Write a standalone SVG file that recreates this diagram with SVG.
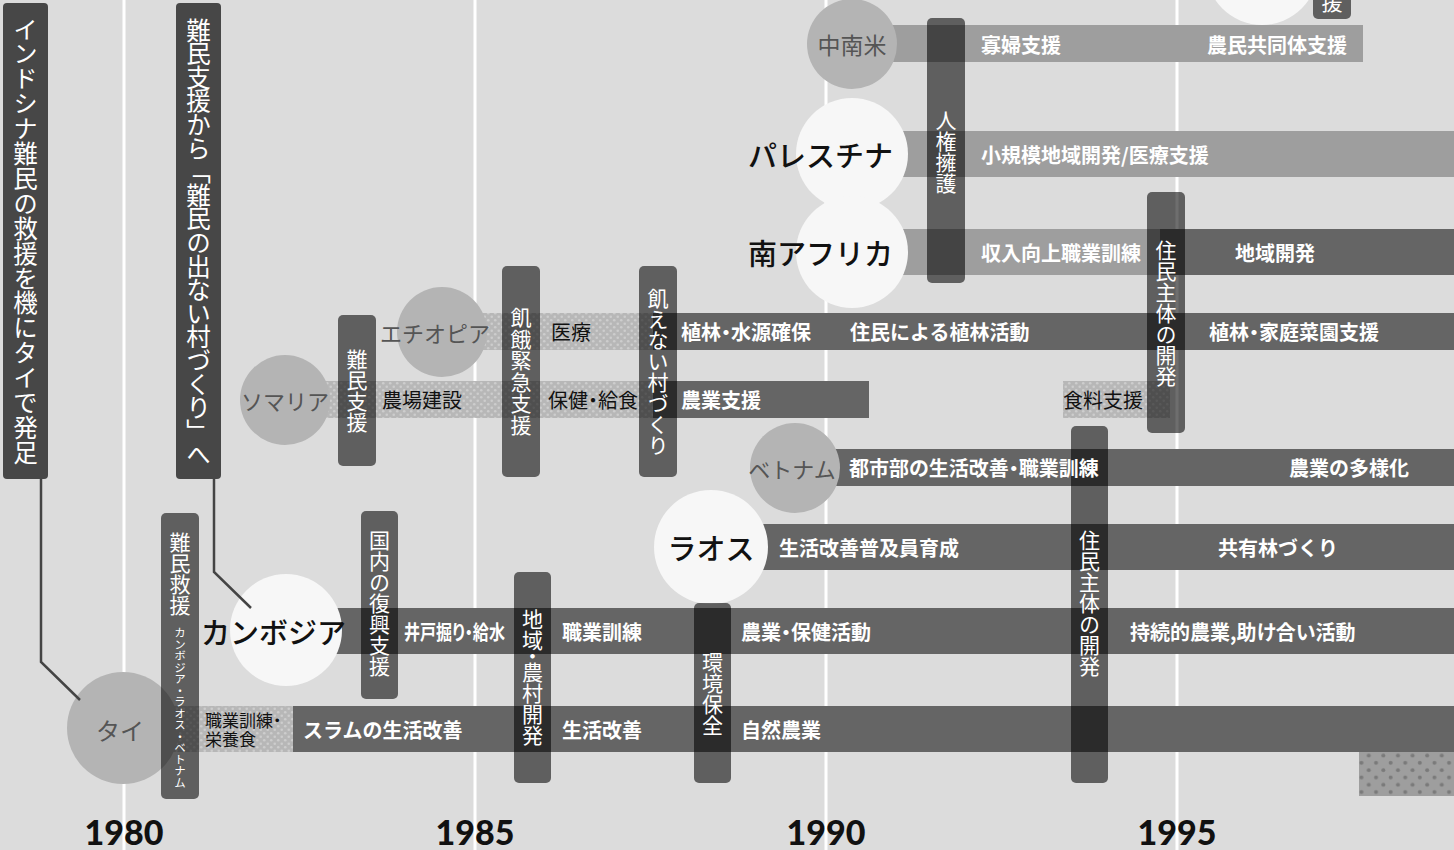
<svg xmlns="http://www.w3.org/2000/svg" width="1454" height="850" viewBox="0 0 1454 850">
<style>
.bl{font-family:"Noto Sans CJK JP",sans-serif;font-size:20px;font-weight:700;fill:#fff;dominant-baseline:central}
.bk{font-family:"Noto Sans CJK JP",sans-serif;font-size:20px;fill:#111;dominant-baseline:central}
.pa{font-feature-settings:"palt"}
.vp{font-feature-settings:"vpal"}
.cg{font-family:"Noto Sans CJK JP",sans-serif;font-size:22px;fill:#555;dominant-baseline:central;text-anchor:middle}
.cw{font-family:"Noto Sans CJK JP",sans-serif;font-size:29px;font-weight:500;fill:#111;dominant-baseline:central}
.vt{font-family:"Noto Sans CJK JP",sans-serif;font-size:21px;fill:#fff;writing-mode:vertical-rl}
.vb{fill:#000;fill-opacity:0.57}
.dk{fill:#656565}
.lt{fill:#9e9e9e}
.gc{fill:#b4b4b4}
.wc{fill:#f7f7f7}
.yr{font-family:Lato,"Liberation Sans",sans-serif;font-size:34px;font-weight:900;fill:#111;text-anchor:middle}
.yl{stroke:#fff;stroke-width:3}
.conn{fill:none;stroke:#444;stroke-width:2.5}
</style>
<defs>
<pattern id="dots" width="7" height="7" patternUnits="userSpaceOnUse"><rect width="7" height="7" fill="#b7b7b7"/><circle cx="1.75" cy="1.75" r="1.3" fill="#cdcdcd"/><circle cx="5.25" cy="5.25" r="1.3" fill="#cdcdcd"/></pattern>
<pattern id="dots2" width="14.6" height="14.6" patternUnits="userSpaceOnUse"><rect width="14.6" height="14.6" fill="#9e9e9e"/><circle cx="3.65" cy="3.65" r="2" fill="#7a7a7a"/><circle cx="10.95" cy="10.95" r="2" fill="#7a7a7a"/></pattern>
</defs>
<rect width="1454" height="850" fill="#dcdcdc"/>
<g id="years">
<line class="yl" x1="124" y1="0" x2="124" y2="850"/>
<line class="yl" x1="475" y1="0" x2="475" y2="850"/>
<line class="yl" x1="826" y1="0" x2="826" y2="850"/>
<line class="yl" x1="1177" y1="0" x2="1177" y2="850"/>
<text class="yr" x="124" y="845">1980</text>
<text class="yr" x="475" y="845">1985</text>
<text class="yr" x="826" y="845">1990</text>
<text class="yr" x="1177" y="845">1995</text>
</g>
<g id="bars">
<rect class="lt" x="852" y="25" width="511" height="37"/>
<rect class="lt" x="852" y="131" width="602" height="46"/>
<rect class="lt" x="852" y="229" width="308" height="46"/>
<rect class="dk" x="1160" y="229" width="294" height="46"/>
<rect fill="url(#dots)" x="442" y="313" width="211" height="37"/>
<rect class="dk" x="653" y="313" width="801" height="37"/>
<rect fill="url(#dots)" x="285" y="381" width="368" height="37"/>
<rect class="dk" x="653" y="381" width="216" height="37"/>
<rect fill="url(#dots)" x="1063" y="381" width="107" height="37"/>
<rect class="dk" x="795" y="449" width="659" height="37"/>
<rect class="dk" x="711" y="524" width="743" height="46"/>
<rect class="dk" x="286" y="608" width="1168" height="46"/>
<rect fill="url(#dots)" x="123" y="706" width="170" height="46"/>
<rect class="dk" x="293" y="706" width="1161" height="46"/>
<rect fill="url(#dots2)" x="1359" y="752" width="95" height="44"/>
</g>
<g id="node-chunanbei"><circle class="gc" cx="852" cy="44" r="45"/><text class="cg" x="852" y="44" style="font-size:23px">中南米</text></g>
<g id="node-palestine"><circle class="wc" cx="852" cy="154" r="56"/><text class="cw" x="893" y="154" text-anchor="end">パレスチナ</text></g>
<g id="node-southafrica"><circle class="wc" cx="852" cy="252" r="56"/><text class="cw" x="893" y="252" text-anchor="end">南アフリカ</text></g>
<g id="node-ethiopia"><circle class="gc" cx="442" cy="332" r="45"/><text class="cg" x="435" y="332">エチオピア</text></g>
<g id="node-somalia"><circle class="gc" cx="285" cy="400" r="45"/><text class="cg" x="285" y="400">ソマリア</text></g>
<g id="node-vietnam"><circle class="gc" cx="795" cy="468" r="45"/><text class="cg" x="792" y="468">ベトナム</text></g>
<g id="node-laos"><circle class="wc" cx="711" cy="547" r="57"/><text class="cw" x="711" y="547" text-anchor="middle">ラオス</text></g>
<g id="node-cambodia"><circle class="wc" cx="286" cy="630" r="56"/><text class="cw" x="346" y="631" text-anchor="end">カンボジア</text></g>
<g id="node-thai"><circle class="gc" cx="123" cy="728" r="56"/><text class="cg" x="120" y="729" style="font-size:24px">タイ</text></g>
<g id="node-topright"><circle class="wc" cx="1262" cy="-31" r="56"/><rect class="vb" x="1313" y="-20" width="38" height="39" rx="5"/><text class="vt" x="1332" y="-8">援</text></g>
<g id="vbars">
<g id="v-nanmin-kyuen"><rect class="vb" x="161" y="513" width="38" height="286" rx="5"/><text class="vt" x="180" y="532">難民救援</text><text class="vt" x="180" y="627" style="font-size:11.5px">カンボジア・ラオス・ベトナム</text></g>
<g id="v-nanmin-shien"><rect class="vb" x="338" y="315" width="38" height="151" rx="5"/><text class="vt" x="357" y="349">難民支援</text></g>
<g id="v-kokunai"><rect class="vb" x="361" y="511" width="37" height="188" rx="5"/><text class="vt" x="379.5" y="530">国内の復興支援</text></g>
<g id="v-kiga"><rect class="vb" x="502" y="266" width="38" height="211" rx="5"/><text class="vt" x="521" y="307" style="letter-spacing:0.5px">飢餓緊急支援</text></g>
<g id="v-uenai"><rect class="vb" x="639" y="266" width="38" height="211" rx="5"/><text class="vt" x="658" y="288">飢えない村づくり</text></g>
<g id="v-chiiki"><rect class="vb" x="514" y="572" width="37" height="211" rx="5"/><text class="vt vp" x="532.5" y="609">地域・農村開発</text></g>
<g id="v-kankyo"><rect class="vb" x="694" y="603" width="37" height="180" rx="5"/><text class="vt" x="712.5" y="652">環境保全</text></g>
<g id="v-jinken"><rect class="vb" x="927" y="18" width="38" height="265" rx="5"/><text class="vt" x="946" y="110">人権擁護</text></g>
<g id="v-jumin1"><rect class="vb" x="1147" y="192" width="38" height="241" rx="5"/><text class="vt" x="1166" y="240">住民主体の開発</text></g>
<g id="v-jumin2"><rect class="vb" x="1071" y="426" width="37" height="357" rx="5"/><text class="vt" x="1089.5" y="530">住民主体の開発</text></g>
</g>
<g id="label-1"><rect x="3" y="3" width="45" height="476" rx="4" fill="#474747"/><text class="vt" x="25.5" y="17" style="font-size:24.5px;letter-spacing:0.4px">インドシナ難民の救援を機にタイで発足</text></g>
<g id="label-2"><rect x="176" y="3" width="45" height="476" rx="4" fill="#474747"/><text class="vt" x="198.5" y="18" style="font-size:24.5px;letter-spacing:-0.9px">難民支援から「難民の出ない村づくり」へ</text></g>
<g id="connectors">
<path class="conn" d="M41 479 V662 L80 700"/>
<path class="conn" d="M214 479 V572 L251 608"/>
</g>
<g id="bar-labels">
<text class="bl" x="981" y="44">寡婦支援</text>
<text class="bl" x="1207" y="44">農民共同体支援</text>
<text class="bl" x="981" y="154">小規模地域開発/医療支援</text>
<text class="bl" x="981" y="252">収入向上職業訓練</text>
<text class="bl" x="1235" y="252">地域開発</text>
<text class="bk" x="551" y="331.5">医療</text>
<text class="bl pa" x="681" y="331.5">植林・水源確保</text>
<text class="bl" x="850" y="331.5">住民による植林活動</text>
<text class="bl pa" x="1209" y="331.5">植林・家庭菜園支援</text>
<text class="bk" x="382" y="399.5">農場建設</text>
<text class="bk pa" x="548" y="399.5">保健・給食</text>
<text class="bl" x="681" y="399.5">農業支援</text>
<text class="bk" x="1063" y="399.5">食料支援</text>
<text class="bl pa" x="849" y="467.5">都市部の生活改善・職業訓練</text>
<text class="bl" x="1289" y="467.5">農業の多様化</text>
<text class="bl" x="779" y="547">生活改善普及員育成</text>
<text class="bl" x="1218" y="547">共有林づくり</text>
<text class="bl pa" x="404" y="631" textLength="101" lengthAdjust="spacingAndGlyphs">井戸掘り・給水</text>
<text class="bl" x="562" y="631">職業訓練</text>
<text class="bl pa" x="741" y="631">農業・保健活動</text>
<text class="bl pa" x="1130" y="631">持続的農業,助け合い活動</text>
<text class="bk pa" style="font-size:17px"><tspan x="205" y="719">職業訓練・</tspan><tspan x="205" y="738">栄養食</tspan></text>
<text class="bl" x="303" y="729">スラムの生活改善</text>
<text class="bl" x="562" y="729">生活改善</text>
<text class="bl" x="741" y="729">自然農業</text>
</g>
</svg>
